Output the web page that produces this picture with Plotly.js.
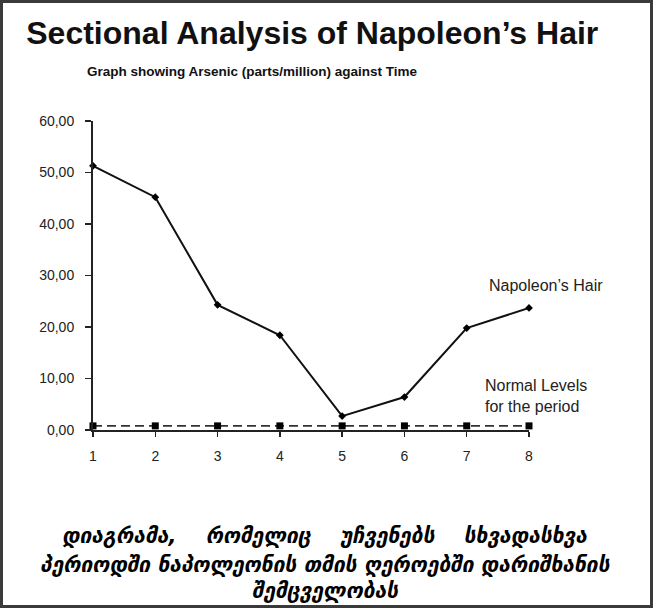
<!DOCTYPE html>
<html>
<head>
<meta charset="utf-8">
<script src="https://cdn.plot.ly/plotly-3.0.1.min.js"></script>
<style>
html,body{margin:0;padding:0;background:#fff;}
#chart{width:653px;height:608px;box-sizing:border-box;border:3px solid #3a3a3a;overflow:hidden;}
</style>
</head>
<body>
<div id="chart"></div>
<script>
const timePoints = [1, 2, 3, 4, 5, 6, 7, 8];
const napoleonHair = [51.3, 45.2, 24.3, 18.4, 2.7, 6.4, 19.8, 23.7];
const normalLevels = [0.8, 0.8, 0.8, 0.8, 0.8, 0.8, 0.8, 0.8];
const yTickValues = [0, 10, 20, 30, 40, 50, 60];
const yTickLabels = ["0,00", "10,00", "20,00", "30,00", "40,00", "50,00", "60,00"];
const xTickLabels = ["1", "2", "3", "4", "5", "6", "7", "8"];

const W = 647, H = 602;
const geoFont = {size: 21, family: 'DejaVu Sans, sans-serif', color: '#000'};
const gap = "&nbsp;&nbsp;&nbsp;&nbsp;";
const traces = [
  {
    x: timePoints, y: normalLevels, type: 'scatter', mode: 'lines+markers',
    line: {color: '#333', width: 1.6, dash: '9px,5px'},
    marker: {symbol: 'square', size: 7, color: '#000'},
    cliponaxis: false, hoverinfo: 'skip'
  },
  {
    x: timePoints, y: napoleonHair, type: 'scatter', mode: 'lines+markers',
    line: {color: '#111', width: 2},
    marker: {symbol: 'diamond', size: 6, color: '#000'},
    cliponaxis: false
  }
];

const layout = {
  width: W, height: H,
  margin: {l: 90, r: 121, t: 118, b: 175},
  paper_bgcolor: '#fff', plot_bgcolor: '#fff',
  showlegend: false,
  font: {family: 'Liberation Sans, Arial, sans-serif', color: '#111'},
  title: {
    text: "<b>Sectional Analysis of Napoleon’s Hair</b>",
    font: {size: 32, family: 'Liberation Sans, Arial, sans-serif', color: '#111'},
    x: 0.478, xanchor: 'center', y: 0.95, yanchor: 'middle'
  },
  xaxis: {
    range: [1, 8], tickvals: timePoints, ticktext: xTickLabels,
    showgrid: false, zeroline: false,
    showline: true, linecolor: '#222', linewidth: 2,
    ticks: 'outside', ticklen: 5, tickwidth: 1.5, tickcolor: '#222',
    ticklabelstandoff: 7,
    tickfont: {size: 14, color: '#222'}
  },
  yaxis: {
    range: [0, 60], tickvals: yTickValues, ticktext: yTickLabels,
    showgrid: false, zeroline: false,
    showline: true, linecolor: '#222', linewidth: 2,
    ticks: 'outside', ticklen: 6, tickwidth: 1.5, tickcolor: '#222',
    ticklabelstandoff: 8,
    tickfont: {size: 14, color: '#222'}
  },
  annotations: [
    {text: "<b>Graph showing Arsenic (parts/million) against Time</b>", xref: 'paper', yref: 'paper',
     x: -0.018, y: 1.159, xanchor: 'left', yanchor: 'middle', showarrow: false,
     font: {size: 13.5, color: '#111'}},
    {text: "Napoleon’s Hair", xref: 'paper', yref: 'paper',
     x: 1.174, y: 0.469, xanchor: 'right', yanchor: 'middle', showarrow: false,
     font: {size: 16, color: '#222'}},
    {text: "Normal Levels<br>for the period", xref: 'paper', yref: 'paper',
     x: 0.894, y: 0.11, xanchor: 'left', yanchor: 'middle', align: 'left', showarrow: false,
     font: {size: 16, color: '#222'}},
    {text: "<b><i>დიაგრამა," + gap + "რომელიც" + gap + "უჩვენებს" + gap + "სხვადასხვა</i></b>", xref: 'paper', yref: 'paper',
     x: 0.532, y: -0.343, xanchor: 'center', yanchor: 'middle', showarrow: false, font: geoFont},
    {text: "<b><i>პერიოდში ნაპოლეონის თმის ღეროებში დარიშხანის</i></b>", xref: 'paper', yref: 'paper',
     x: 0.532, y: -0.437, xanchor: 'center', yanchor: 'middle', showarrow: false, font: geoFont},
    {text: "<b><i>შემცველობას</i></b>", xref: 'paper', yref: 'paper',
     x: 0.532, y: -0.521, xanchor: 'center', yanchor: 'middle', showarrow: false, font: geoFont}
  ]
};

Plotly.newPlot('chart', traces, layout, {displayModeBar: false, staticPlot: true});
</script>
</body>
</html>
